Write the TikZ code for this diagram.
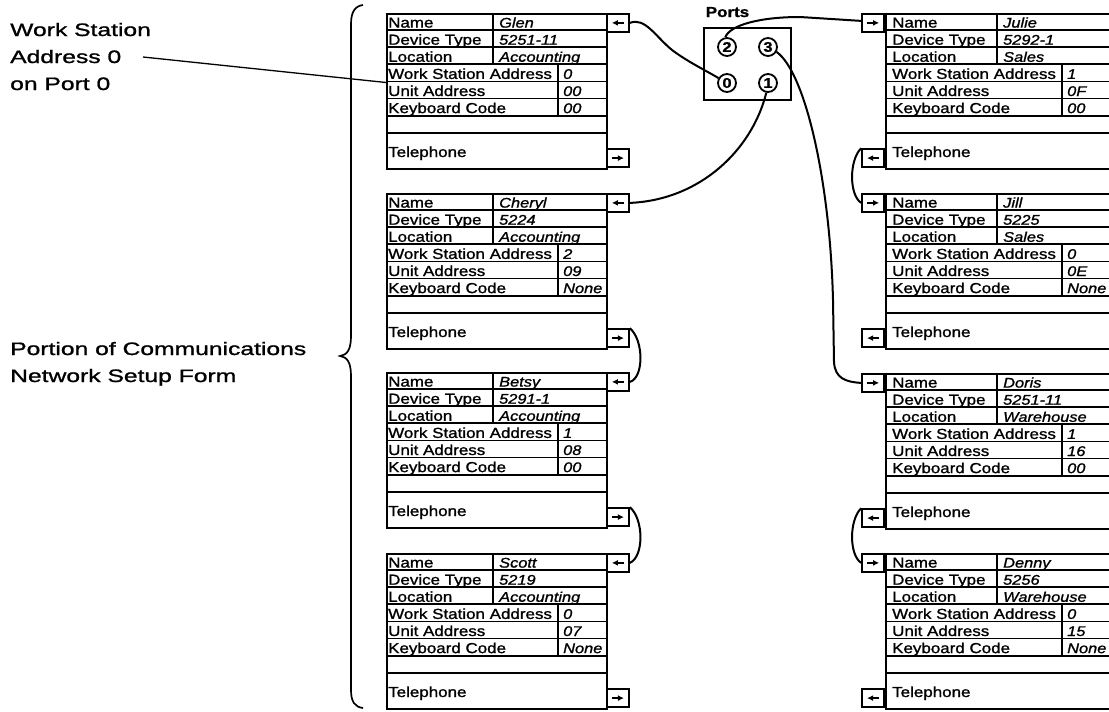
\documentclass[tikz,border=0pt]{standalone}
\usepackage{fontspec}
\setmainfont{Liberation Sans}
\newfontfamily\cardf{Liberation Sans}[FakeStretch=1.17,FakeBold=1.2]
\newfontfamily\lblf{Liberation Sans}[FakeStretch=1.37,FakeBold=1.2]
\usetikzlibrary{arrows.meta,calc}

\tikzset{
  frame/.style={draw, line width=2pt, inner sep=0pt},
  rowline/.style={line width=1.8pt},
  lbl/.style={inner sep=0pt, anchor=base west, font=\cardf\fontsize{14.5}{17}\selectfont},
  val/.style={inner sep=0pt, anchor=base west, font=\cardf\itshape\fontsize{14}{17}\selectfont},
  abox/.style={draw, line width=1.8pt, minimum width=22pt, minimum height=18pt, inner sep=0pt},
  arr/.style={line width=1.6pt, -{Latex[length=6pt,width=6pt]}},
  conn/.style={line width=2pt},
  port/.style={circle, draw, line width=1.8pt, minimum size=18pt, inner sep=0pt,
    font=\cardf\bfseries\fontsize{14}{15}\selectfont},
  side/.style={inner sep=0pt, anchor=base west, font=\lblf\fontsize{18}{27}\selectfont},
}

% #1 id, #2 top, #3..#8 values ; uses \cxl \cxo \cxr
\newcommand{\cardbody}[8]{%
  \pgfmathsetlengthmacro\cw{\cxr-\cxl}%
  \node[frame, anchor=north west, minimum width=\cw, minimum height=155pt] (#1) at (\cxl,#2) {};
  \foreach \k in {1,...,7}{\draw[rowline] (\cxl,#2+\k*17.1) -- (\cxr,#2+\k*17.1);}
  \draw[rowline] (\cxo+105,#2) -- (\cxo+105,#2+51.3);
  \draw[rowline] (\cxo+170,#2+51.3) -- (\cxo+170,#2+102.6);
  \node[lbl] (#1-l1) at (\cxo,#2+14.6) {Name};
  \node[lbl] (#1-l2) at (\cxo,#2+31.7) {Device Type};
  \node[lbl] (#1-l3) at (\cxo,#2+48.8) {Location};
  \node[lbl] (#1-l4) at (\cxo,#2+65.9) {Work Station Address};
  \node[lbl] (#1-l5) at (\cxo,#2+83.0) {Unit Address};
  \node[lbl] (#1-l6) at (\cxo,#2+100.1) {Keyboard Code};
  \node[lbl] (#1-l7) at (\cxo,#2+144) {Telephone};
  \node[val] (#1-v1) at (\cxo+111,#2+14.6) {#3};
  \node[val] (#1-v2) at (\cxo+111,#2+31.7) {#4};
  \node[val] (#1-v3) at (\cxo+111,#2+48.8) {#5};
  \node[val] (#1-v4) at (\cxo+175,#2+65.9) {#6};
  \node[val] (#1-v5) at (\cxo+175,#2+83.0) {#7};
  \node[val] (#1-v6) at (\cxo+175,#2+100.1) {#8};
}

\newcommand{\lcard}[8]{%
  \def\cxl{386}\def\cxo{388}\def\cxr{606}%
  \cardbody{#1}{#2}{#3}{#4}{#5}{#6}{#7}{#8}
  \node[abox, anchor=north west] (#1-in) at (\cxr,#2) {};
  \draw[arr] ([xshift=6pt]#1-in.center) -- ([xshift=-6pt]#1-in.center);
  \node[abox, anchor=south west] (#1-out) at (\cxr,#2+155) {};
  \draw[arr] ([xshift=-6pt]#1-out.center) -- ([xshift=6pt]#1-out.center);
}

\newcommand{\rcard}[8]{%
  \def\cxl{885}\def\cxo{892}\def\cxr{1125}%
  \cardbody{#1}{#2}{#3}{#4}{#5}{#6}{#7}{#8}
  \node[abox, anchor=north east] (#1-in) at (\cxl,#2) {};
  \draw[arr] ([xshift=-6pt]#1-in.center) -- ([xshift=6pt]#1-in.center);
  \node[abox, anchor=south east] (#1-out) at (\cxl,#2+155) {};
  \draw[arr] ([xshift=6pt]#1-out.center) -- ([xshift=-6pt]#1-out.center);
}

\begin{document}
\begin{tikzpicture}[x=1pt,y=-1pt]
\useasboundingbox (0,0) rectangle (1109,712);
\clip (0,0) rectangle (1109,712);
\fill[white] (0,0) rectangle (1109,712);

% side labels
\node[side] (ws1) at (10,36) {Work Station};
\node[side] (ws2) at (10,63) {Address 0};
\node[side] (ws3) at (10,90) {on Port 0};
\node[side] (pc1) at (10,355) {Portion of Communications};
\node[side] (pc2) at (10,382) {Network Setup Form};

% brace
\draw[line width=1.7pt] (363,5) .. controls (355,6) and (351,12) .. (351,24) -- (351,336)
  .. controls (351,350) and (347,355) .. (340,356)
  .. controls (347,357) and (351,362) .. (351,376) -- (351,690)
  .. controls (351,702) and (355,707) .. (363,708);

% cards
\lcard{glen}{13}{Glen}{5251-11}{Accounting}{0}{00}{00}
\lcard{cheryl}{193}{Cheryl}{5224}{Accounting}{2}{09}{None}
\lcard{betsy}{372}{Betsy}{5291-1}{Accounting}{1}{08}{00}
\lcard{scott}{553}{Scott}{5219}{Accounting}{0}{07}{None}
\rcard{julie}{13}{Julie}{5292-1}{Sales}{1}{0F}{00}
\rcard{jill}{193}{Jill}{5225}{Sales}{0}{0E}{None}
\rcard{doris}{373}{Doris}{5251-11}{Warehouse}{1}{16}{00}
\rcard{denny}{553}{Denny}{5256}{Warehouse}{0}{15}{None}

% pointer
\coordinate (ptr) at (143,57);
\coordinate (glenwsa) at (386,82.5);
\draw[line width=1.3pt] (ptr) -- (glenwsa);

% ports
\node[draw, line width=2pt, minimum width=87pt, minimum height=72pt, inner sep=0pt, anchor=north west] (ports) at (703,27) {};
\node[inner sep=0pt, anchor=base, font=\cardf\bfseries\fontsize{14.5}{17}\selectfont] (portslbl) at (727.5,17) {Ports};
\node[port] (p2) at (727,47) {2};
\node[port] (p3) at (768,47) {3};
\node[port] (p0) at (727,83) {0};
\node[port] (p1) at (768,83) {1};

% connectors
\draw[conn] (glen-in.east) .. controls (645,17) and (655,36) .. (672,50)
  .. controls (688,62) and (705,70) .. (p0.150);
\draw[conn] (p1.-100) .. controls (752,150) and (700,200) .. (cheryl-in.east);
\draw[conn] (p2.100) .. controls (730,25) and (760,17) .. (800,17) -- ([yshift=2pt]julie-in.west);
\draw[conn] (p3.-30) .. controls (805,72) and (830,180) .. (833,300) -- (834,362)
  .. controls (835,378) and (845,382) .. (doris-in.west);

\draw[conn] (cheryl-out.north east) .. controls (644,340) and (644,378) .. (betsy-in.east);
\draw[conn] (betsy-out.north east) .. controls (644,519) and (644,557) .. (scott-in.east);
\draw[conn] (julie-out.north west) .. controls (849,160) and (849,195) .. (jill-in.west);
\draw[conn] (doris-out.north west) .. controls (849,520) and (849,555) .. (denny-in.west);
\end{tikzpicture}
\end{document}
